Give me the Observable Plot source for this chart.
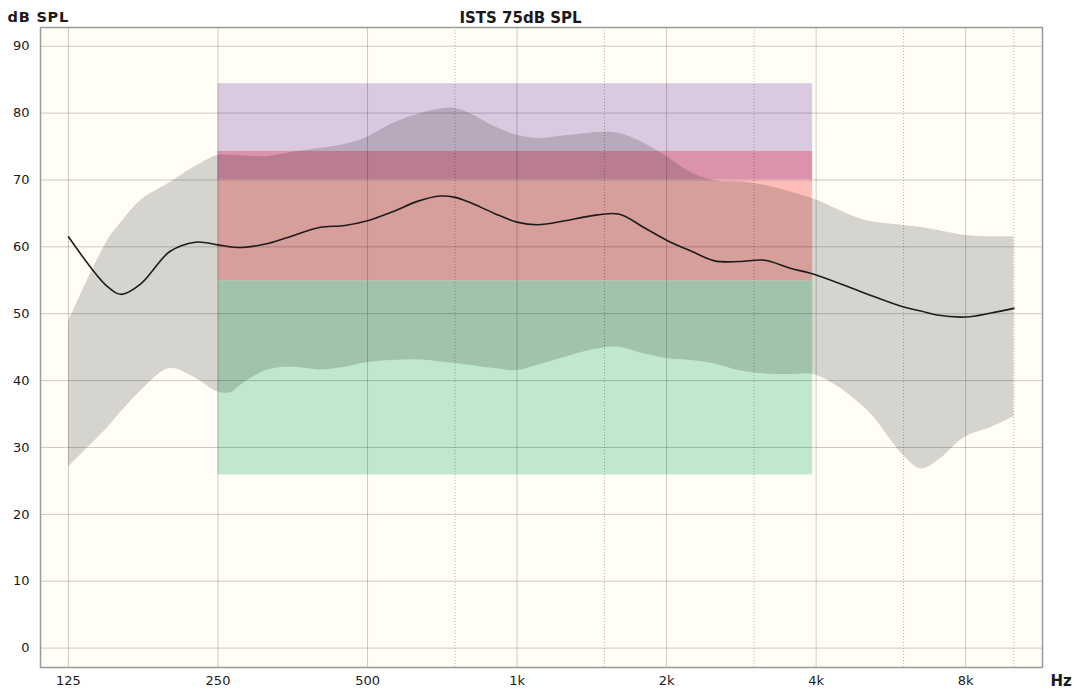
<!DOCTYPE html>
<html><head><meta charset="utf-8">
<script src="https://cdn.jsdelivr.net/npm/d3@7"></script>
<script src="https://cdn.jsdelivr.net/npm/@observablehq/plot@0.6"></script>
<style>html,body{margin:0;padding:0;background:#fff;}#chart{width:1078px;height:695px;}</style>
</head><body><div id="chart"></div>
<script>
// Frequencies (Hz)
const freqs   = [125,150,160,175,200,225,250,265,280,315,355,400,450,500,560,630,700,750,800,900,1000,1100,1250,1400,1600,1800,2000,2250,2500,2800,3150,3550,4000,5000,6000,6500,7000,8000,9000,10000];
// Mean ISTS level (dB SPL)
const meanDb  = [61.5,54.0,52.9,54.5,59.3,60.7,60.3,60.0,59.9,60.5,61.7,62.9,63.2,63.9,65.2,66.8,67.6,67.4,66.7,65.0,63.7,63.3,63.9,64.6,64.9,62.9,61.0,59.3,57.9,57.8,58.0,56.8,55.8,53.1,51.0,50.4,49.8,49.5,50.1,50.8];
// Upper percentile
const upperDb = [48.8,61.0,63.7,67.0,69.6,72.0,73.7,73.7,73.6,73.5,74.2,74.7,75.3,76.4,78.4,79.8,80.6,80.7,80.0,78.0,76.7,76.2,76.6,77.0,77.0,75.5,73.5,71.0,69.9,69.7,69.2,68.2,67.0,64.0,63.2,62.9,62.5,61.7,61.5,61.5];
// Lower percentile
const lowerDb = [27.1,33.0,35.4,38.5,41.8,40.4,38.3,38.2,39.5,41.6,42.0,41.6,42.0,42.7,43.0,43.1,42.8,42.6,42.3,41.8,41.5,42.3,43.5,44.5,45.0,44.0,43.3,43.0,42.5,41.5,41.0,40.9,40.8,36.0,28.8,26.8,27.9,31.6,33.0,34.6];

// Bands
const bandNames  = ["purple","pink","salmon","green"];
const bandLo     = [74.3, 70.0, 54.9, 25.9];
const bandHi     = [84.4, 74.3, 70.0, 54.9];
const bandColors = ["#dbc9e0","#dc91ad","#ffbcb8","#bfe8cc"];
const bandStartHz = 250;
const bandEndHz   = 3935;

// Ticks / grid
const xTicks  = [125,250,500,1000,2000,4000,8000];
const xLabels = ["125","250","500","1k","2k","4k","8k"];
const xDotted = [750,1500,3000,6000,10000];
const yTicks  = [0,10,20,30,40,50,60,70,80,90];

const series = freqs.map((f,i)=>({f, mean:meanDb[i], hi:upperDb[i], lo:lowerDb[i]}));
const bands = bandNames.map((n,i)=>({name:n, lo:bandLo[i], hi:bandHi[i], x1:bandStartHz, x2:bandEndHz, color:bandColors[i]}));
const xTickData = xTicks.map((f,i)=>({f, label:xLabels[i]}));

const plot = Plot.plot({
  width:1078, height:695,
  marginLeft:40, marginRight:36, marginTop:27, marginBottom:28,
  style:{fontFamily:"DejaVu Sans, Verdana, sans-serif", fontSize:"13px", background:"#fff", color:"#1a1a1a"},
  x:{type:"log", domain:[109.8,11422], label:null, axis:null},
  y:{domain:[-2.9,92.8], label:null, axis:null},
  marks:[
    Plot.frame({fill:"#fffdf5", stroke:null}),
    Plot.rect(bands, {x1:"x1", x2:"x2", y1:"lo", y2:"hi", fill:"color"}),
    Plot.areaY(series, {x:"f", y1:"lo", y2:"hi", fill:"#1e1e1e", fillOpacity:0.185, curve:"catmull-rom"}),
    Plot.ruleY(yTicks, {stroke:"#000", strokeOpacity:0.2}),
    Plot.ruleX(xTicks, {stroke:"#000", strokeOpacity:0.2}),
    Plot.ruleX(xDotted, {stroke:"#000", strokeOpacity:0.3, strokeDasharray:"1,2"}),
    Plot.line(series, {x:"f", y:"mean", stroke:"#1c1c1c", strokeWidth:1.6, curve:"catmull-rom"}),
    Plot.frame({stroke:"#9a9a9a", strokeWidth:1.5}),
    Plot.text(xTickData, {x:"f", text:"label", frameAnchor:"bottom", dy:8, lineAnchor:"top", fontSize:13, fill:"#1a1a1a"}),
    Plot.text(yTicks, {y:d=>d, text:d=>String(d), frameAnchor:"left", dx:-11, textAnchor:"end", fontSize:13, fill:"#1a1a1a"}),
    Plot.text(["ISTS 75dB SPL"], {frameAnchor:"top", dx:-21, dy:-5, lineAnchor:"bottom", fontWeight:"bold", fontSize:15}),
    Plot.text(["dB SPL"], {frameAnchor:"top-left", dx:-33, dy:-6, lineAnchor:"bottom", textAnchor:"start", fontWeight:"bold", fontSize:14.5}),
    Plot.text(["Hz"], {frameAnchor:"bottom-right", dx:8, dy:8, lineAnchor:"top", textAnchor:"start", fontWeight:"bold", fontSize:15})
  ]
});
document.getElementById("chart").appendChild(plot);
d3.select(plot).selectAll("text").filter(function(){ return this.textContent === "dB SPL"; }).attr("letter-spacing", "0.8px");
</script>
</body></html>
